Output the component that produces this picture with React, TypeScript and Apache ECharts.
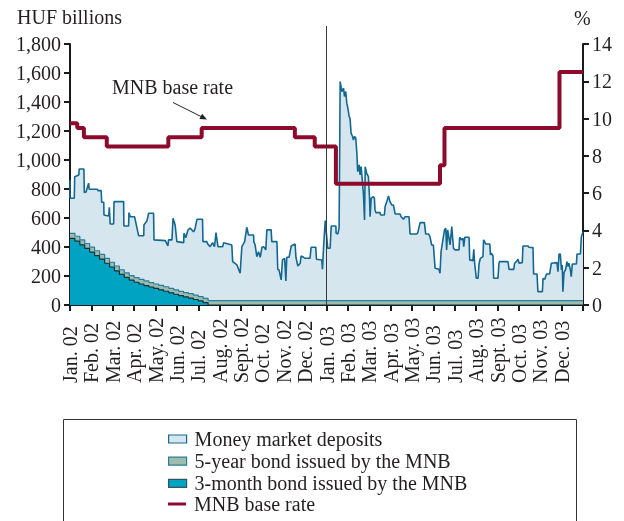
import React, { useEffect, useRef } from 'react';
import * as echarts from 'echarts';

const FONT = "'Liberation Serif', 'Times New Roman', serif";
const INK = '#231f20';

const monthLabels = [
  'Jan. 02', 'Feb. 02', 'Mar. 02', 'Apr. 02', 'May. 02', 'Jun. 02', 'Jul. 02', 'Aug. 02',
  'Sept. 02', 'Oct. 02', 'Nov. 02', 'Dec. 02', 'Jan. 03', 'Feb. 03', 'Mar. 03', 'Apr. 03',
  'May. 03', 'Jun. 03', 'Jul. 03', 'Aug. 03', 'Sept. 03', 'Oct. 03', 'Nov. 03', 'Dec. 03', '',
];

// Outline of the money market deposits area (deposits on top of the bonds), HUF billions, x = months since Jan. 2002
const depositsOutline: [number, number][] = [
  [0, 860], [0, 736], [0.2, 736], [0.22, 885], [0.41, 897], [0.43, 938], [0.65, 938], [0.67, 775], [0.75, 780],
  [0.87, 840], [0.9, 798], [1.28, 798], [1.31, 789], [1.46, 789], [1.48, 709], [1.58, 709], [1.59, 621], [1.81, 614],
  [1.84, 674], [1.88, 559], [2.04, 559], [2.06, 713], [2.51, 713], [2.52, 545], [2.74, 545], [2.76, 637], [2.82, 609],
  [3.02, 609], [3.21, 478], [3.45, 478], [3.46, 552], [3.6, 580], [3.68, 633], [3.91, 633], [3.93, 449], [4.46, 444],
  [4.58, 407], [4.61, 449], [4.77, 449], [4.82, 598], [4.92, 552], [5.0, 437], [5.32, 430], [5.33, 495], [5.42, 465],
  [5.52, 518], [5.62, 530], [5.78, 505], [5.84, 520], [5.94, 591], [6.2, 591], [6.22, 437], [6.4, 437], [6.45, 420],
  [6.56, 402], [6.67, 430], [6.76, 402], [6.83, 499], [6.92, 402], [7.14, 402], [7.19, 430], [7.57, 414], [7.61, 299],
  [7.81, 276], [7.96, 219], [8.04, 402], [8.17, 437], [8.27, 536], [8.35, 483], [8.59, 483], [8.6, 437], [8.66, 414],
  [8.74, 333], [8.82, 368], [8.9, 329], [8.98, 398], [9.06, 402], [9.16, 380], [9.21, 518], [9.41, 518], [9.44, 437],
  [9.68, 437], [9.72, 246], [9.78, 241], [9.88, 173], [9.94, 311], [10.04, 322], [10.1, 166], [10.14, 329],
  [10.25, 329], [10.35, 407], [10.53, 421], [10.57, 329], [10.66, 269], [10.77, 288], [10.81, 338], [10.93, 329],
  [11.0, 322], [11.23, 322], [11.28, 398], [11.5, 398], [11.53, 315], [11.78, 310], [11.81, 246], [11.86, 391],
  [11.94, 582], [11.98, 518], [12.06, 391], [12.17, 391], [12.22, 545], [12.44, 545], [12.45, 495], [12.53, 490],
  [12.59, 530], [12.64, 1541], [12.72, 1472], [12.8, 1495], [12.84, 1438], [12.9, 1472], [12.95, 1392], [13.0, 1357],
  [13.06, 1299], [13.1, 1288], [13.15, 1185], [13.22, 1162], [13.26, 1138], [13.31, 1162], [13.37, 1150], [13.42, 1047],
  [13.46, 920], [13.53, 966], [13.57, 897], [13.62, 954], [13.68, 851], [13.73, 759], [13.78, 587], [13.81, 954],
  [13.88, 908], [13.96, 885], [14.01, 747], [14.04, 609], [14.09, 736], [14.2, 747], [14.24, 736], [14.27, 656],
  [14.31, 637], [14.51, 637], [14.53, 621], [14.71, 621], [14.74, 678], [14.82, 713], [14.9, 752], [14.97, 713],
  [15.05, 690], [15.13, 690], [15.21, 628], [15.44, 628], [15.49, 609], [15.6, 591], [15.68, 609], [15.86, 609],
  [15.91, 490], [16.22, 490], [16.27, 499], [16.38, 568], [16.58, 568], [16.64, 490], [16.77, 490], [16.84, 471],
  [16.92, 414], [17.0, 414], [17.08, 253], [17.26, 246], [17.31, 219], [17.36, 368], [17.42, 425], [17.52, 518],
  [17.58, 529], [17.62, 380], [17.67, 518], [17.78, 414], [17.86, 541], [17.94, 391], [18.01, 380], [18.2, 380],
  [18.23, 467], [18.31, 449], [18.39, 460], [18.42, 402], [18.47, 467], [18.67, 467], [18.7, 311], [18.85, 306],
  [18.89, 384], [18.93, 288], [19.01, 184], [19.09, 184], [19.14, 288], [19.2, 322], [19.32, 334], [19.35, 449],
  [19.45, 421], [19.64, 421], [19.67, 345], [19.71, 357], [19.79, 338], [19.82, 184], [20.02, 184], [20.07, 288],
  [20.1, 299], [20.49, 299], [20.54, 246], [20.76, 246], [20.8, 288], [20.88, 299], [20.96, 315], [21.01, 288],
  [21.16, 292], [21.19, 407], [21.43, 407], [21.47, 398], [21.66, 396], [21.69, 214], [21.85, 214], [21.89, 92],
  [22.1, 92], [22.13, 184], [22.21, 177], [22.29, 214], [22.44, 214], [22.52, 288], [22.78, 292], [22.83, 230],
  [22.88, 352], [22.94, 352], [22.99, 242], [23.03, 276], [23.06, 92], [23.11, 223], [23.19, 246], [23.25, 299],
  [23.3, 265], [23.34, 288], [23.41, 242], [23.45, 196], [23.5, 283], [23.69, 283], [23.72, 352], [23.88, 352],
  [23.92, 467], [24, 506],
];

// Weekly bond stocks (months since Jan. 2002)
const bondMonths = [
  0, 0.23, 0.46, 0.69, 0.92, 1.15, 1.38, 1.62, 1.85, 2.08, 2.31, 2.54, 2.77, 3.0, 3.23, 3.46, 3.69, 3.92,
  4.15, 4.38, 4.62, 4.85, 5.08, 5.31, 5.54, 5.77, 6.0, 6.23, 6.46, 12, 24,
];
const threeMonthBond = [
  460, 440, 415, 390, 365, 341, 316, 288, 262, 236, 211, 190, 171, 157, 145, 134, 124, 114,
  105, 95, 84, 74, 64, 56, 48, 38, 28, 16, 0, 0, 0,
];
const fiveYearBond = [
  34, 34, 34, 34, 34, 33, 33, 33, 33, 33, 32, 32, 32, 32, 32, 32, 31, 31,
  31, 31, 31, 31, 30, 30, 30, 30, 30, 30, 30, 30, 30,
];

// MNB base rate, %, change points
const baseRate: [number, number][] = [
  [0, 9.75], [0.34, 9.5], [0.65, 9.0], [1.72, 8.5], [4.6, 9.0], [6.16, 9.5], [10.52, 9.0], [11.45, 8.5],
  [12.44, 6.5], [17.31, 7.5], [17.52, 9.5], [22.9, 12.5], [24, 12.5],
];

const C_DEP_FILL = '#d6e6ef';
const C_DEP_LINE = '#136891';
const C_5Y_FILL = '#9bbcae';
const C_5Y_LINE = '#2a7d98';
const C_3M_FILL = '#00a3c2';
const C_3M_LINE = '#12313d';
const C_RATE = '#8c0b2d';

export default function App() {
  const ref = useRef<HTMLDivElement>(null);
  useEffect(() => {
    if (!ref.current) return;
    const chart = echarts.init(ref.current, undefined, { renderer: 'svg' });
    const fiveTop = bondMonths.map((m, i) => [m, threeMonthBond[i] + fiveYearBond[i]]);
    const threeTop = bondMonths.map((m, i) => [m, threeMonthBond[i]]);
    const axisLine = { show: true, lineStyle: { color: '#1a1a1a', width: 2 } };
    const axisTick = { show: true, length: 6, lineStyle: { color: '#1a1a1a', width: 2 } };
    const option: any = {
      animation: false,
      grid: { left: 70, right: 41, top: 44, bottom: 216, containLabel: false },
      xAxis: {
        type: 'value', min: 0, max: 24, interval: 1,
        axisLine, axisTick: { ...axisTick, inside: false },
        splitLine: { show: false },
        axisLabel: {
          rotate: 90, align: 'left', verticalAlign: 'middle', margin: 78,
          fontFamily: FONT, fontSize: 20, color: INK,
          showMaxLabel: true, showMinLabel: true,
          formatter: (v: number) => monthLabels[Math.round(v)] || '',
        },
      },
      yAxis: [
        {
          type: 'value', min: 0, max: 1800, interval: 200,
          axisLine, axisTick, splitLine: { show: false },
          axisLabel: {
            fontFamily: FONT, fontSize: 20, color: INK, margin: 9,
            formatter: (v: number) => v.toLocaleString('en-US'),
          },
        },
        {
          type: 'value', min: 0, max: 14, interval: 2, position: 'right',
          axisLine, axisTick, splitLine: { show: false },
          axisLabel: { fontFamily: FONT, fontSize: 20, color: INK, margin: 9 },
        },
      ],
      legend: [
        {
          orient: 'vertical', left: 168, top: 429, padding: 0, itemGap: 2.2,
          itemWidth: 18, itemHeight: 8,
          textStyle: { fontFamily: FONT, fontSize: 20, color: INK, lineHeight: 20, padding: [0, 0, 0, 3] },
          selectedMode: false,
          data: [
            { name: 'Money market deposits', icon: 'rect', itemStyle: { color: C_DEP_FILL, borderColor: C_DEP_LINE, borderWidth: 1.2 } },
            { name: '5-year bond issued by the MNB', icon: 'rect', itemStyle: { color: C_5Y_FILL, borderColor: C_5Y_LINE, borderWidth: 1.2 } },
            { name: '3-month bond issued by the MNB', icon: 'rect', itemStyle: { color: C_3M_FILL, borderColor: '#335560', borderWidth: 1.2 } },
          ],
        },
        {
          orient: 'vertical', left: 168, top: 494, padding: 0,
          itemWidth: 18, itemHeight: 3,
          textStyle: { fontFamily: FONT, fontSize: 20, color: INK, lineHeight: 20, padding: [0, 0, 0, 3] },
          selectedMode: false,
          data: [{ name: 'MNB base rate', icon: 'rect', itemStyle: { color: C_RATE, borderWidth: 0 } }],
        },
      ],
      series: [
        {
          name: 'Money market deposits', type: 'line', data: depositsOutline, symbol: 'none', z: 2,
          lineStyle: { color: C_DEP_LINE, width: 1.6 }, itemStyle: { color: C_DEP_FILL },
          areaStyle: { color: C_DEP_FILL, opacity: 1 },
        },
        {
          name: '5-year bond issued by the MNB', type: 'line', step: 'end', data: fiveTop, symbol: 'none', z: 3,
          lineStyle: { color: C_5Y_LINE, width: 1.2 }, itemStyle: { color: C_5Y_FILL },
          areaStyle: { color: C_5Y_FILL, opacity: 1 },
        },
        {
          name: '3-month bond issued by the MNB', type: 'line', step: 'end', data: threeTop, symbol: 'none', z: 4,
          lineStyle: { color: C_3M_LINE, width: 1.2 }, itemStyle: { color: C_3M_FILL },
          areaStyle: { color: C_3M_FILL, opacity: 1 },
        },
        {
          name: 'MNB base rate', type: 'line', yAxisIndex: 1, step: 'end', data: baseRate, symbol: 'none', z: 5,
          lineStyle: { color: C_RATE, width: 4 }, itemStyle: { color: C_RATE },
        },
      ],
    };
    chart.setOption(option);

    const xJan03 = chart.convertToPixel({ xAxisIndex: 0 }, 12) as number;
    const yZero = chart.convertToPixel({ yAxisIndex: 0 }, 0) as number;
    const tip = [207, 119.5];
    chart.setOption({
      graphic: [
        { type: 'line', shape: { x1: xJan03, y1: 26, x2: xJan03, y2: yZero }, style: { stroke: '#3a3a3a', lineWidth: 1 }, z: 10 },
        { type: 'text', x: 17, y: 16.5, style: { text: 'HUF billions', font: `20px ${FONT}`, fill: INK, align: 'left', verticalAlign: 'middle' } },
        { type: 'text', x: 574, y: 18, style: { text: '%', font: `20px ${FONT}`, fill: INK, align: 'left', verticalAlign: 'middle' } },
        { type: 'text', x: 172.5, y: 87, style: { text: 'MNB base rate', font: `20px ${FONT}`, fill: INK, align: 'center', verticalAlign: 'middle' } },
        { type: 'line', shape: { x1: 173, y1: 102.5, x2: 202, y2: 117 }, style: { stroke: '#222', lineWidth: 1 } },
        { type: 'polygon', shape: { points: [tip, [199.4, 119.1], [202.1, 113.7]] }, style: { fill: '#222' } },
        { type: 'rect', shape: { x: 63.5, y: 419.5, width: 513, height: 120 }, style: { fill: 'none', stroke: '#333', lineWidth: 1 } },
      ],
    });
    return () => chart.dispose();
  }, []);
  return <div ref={ref} style={{ position: 'fixed', left: 0, top: 0, width: 624, height: 521 }} />;
}
